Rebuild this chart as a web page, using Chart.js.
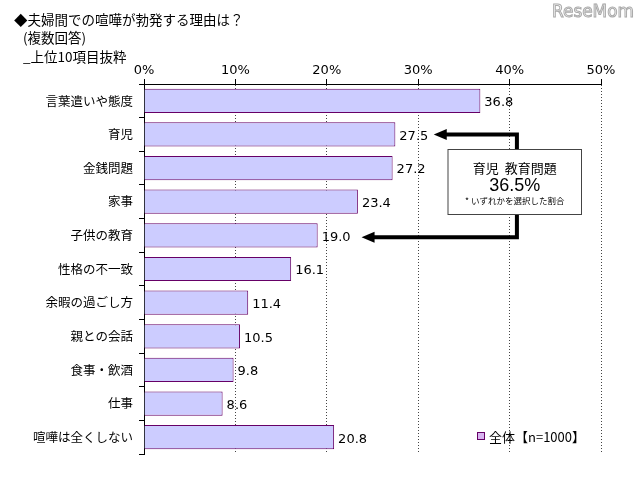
<!DOCTYPE html>
<html><head><meta charset="utf-8">
<script src="https://cdn.jsdelivr.net/npm/chart.js@4"></script>
<style>html,body{margin:0;padding:0;background:#fff}canvas{display:block}</style>
</head><body>
<canvas id="c" width="640" height="477" style="width:640px;height:477px"></canvas>
<script>
const categories = ['言葉遣いや態度','育児','金銭問題','家事','子供の教育','性格の不一致','余暇の過ごし方','親との会話','食事・飲酒','仕事','喧嘩は全くしない'];
const values = [36.8, 27.5, 27.2, 23.4, 19.0, 16.1, 11.4, 10.5, 9.8, 8.6, 20.8];
const valueLabels = ['36.8','27.5','27.2','23.4','19.0','16.1','11.4','10.5','9.8','8.6','20.8'];
const xMin = 0, xMax = 50, xStep = 10;
const titleLines = ['◆夫婦間での喧嘩が勃発する理由は？',' (複数回答)',' _上位10項目抜粋'];
const noteLines = ['育児  教育問題','36.5%','* いずれかを選択した割合'];
const legendText = '全体【n=1000】';

const FONT = '"Noto Sans CJK JP", "Noto Sans", sans-serif';
const NUMFONT = '"DejaVu Sans", "Noto Sans", sans-serif';

const overlay = {
  id:'overlay',
  afterDraw(chart){
    const ctx = chart.ctx, xs = chart.scales.x, ys = chart.scales.y;
    const meta = chart.getDatasetMeta(0);
    ctx.save();
    // data labels
    ctx.fillStyle = '#000';
    ctx.font = '13px ' + NUMFONT;
    ctx.textBaseline = 'middle';
    ctx.textAlign = 'left';
    meta.data.forEach((el,i)=>{ ctx.fillText(valueLabels[i], el.x + 4, el.y + 2); });

    // title
    ctx.font = '13.5px ' + FONT;
    ctx.textBaseline = 'middle';
    ctx.fillText(titleLines[0], 14, 20);
    ctx.fillText(titleLines[1], 20, 38);
    ctx.fillText(titleLines[2], 20, 57);

    // watermark
    ctx.font = '17px "DejaVu Sans", sans-serif';
    const w = ctx.measureText('ReseMom').width;
    ctx.save();
    ctx.translate(552, 13);
    ctx.scale(82 / w, 1);
    ctx.textBaseline = 'middle';
    ctx.lineWidth = 1;
    ctx.strokeStyle = '#aaa';
    ctx.fillStyle = '#fff';
    ctx.fillText('ReseMom', 0, 0);
    ctx.strokeText('ReseMom', 0, 0);
    ctx.restore();

    // arrows
    const vx = xs.getPixelForValue(40.8);
    const y1 = ys.getPixelForValue(1), y2 = ys.getPixelForValue(4) + 2;
    const tip1 = xs.getPixelForValue(31.7), tip2 = xs.getPixelForValue(23.8);
    ctx.strokeStyle = '#000'; ctx.fillStyle = '#000';
    ctx.lineWidth = 4; ctx.lineCap = 'butt';
    ctx.beginPath();
    ctx.moveTo(tip1 + 10, y1); ctx.lineTo(vx + 2, y1);
    ctx.moveTo(vx, y1 - 2); ctx.lineTo(vx, y2 + 2);
    ctx.moveTo(vx + 2, y2); ctx.lineTo(tip2 + 10, y2);
    ctx.stroke();
    [[tip1,y1],[tip2,y2]].forEach(([tx,ty])=>{
      ctx.beginPath(); ctx.moveTo(tx, ty); ctx.lineTo(tx + 13, ty - 5.5); ctx.lineTo(tx + 13, ty + 5.5); ctx.closePath(); ctx.fill();
    });

    // note box
    const bx1 = 447.5, bx2 = 582, by1 = 149, by2 = 215;
    ctx.fillStyle = '#fff';
    ctx.fillRect(bx1, by1, bx2 - bx1, by2 - by1);
    ctx.lineWidth = 1; ctx.strokeStyle = '#444';
    ctx.strokeRect(bx1 + 0.5, by1 + 0.5, bx2 - bx1 - 1, by2 - by1 - 1);
    ctx.fillStyle = '#000'; ctx.textAlign = 'center'; ctx.textBaseline = 'middle';
    const cx = (bx1 + bx2) / 2;
    ctx.font = '13px ' + FONT; ctx.fillText(noteLines[0], cx, 168);
    ctx.font = '18px "Liberation Sans", "Noto Sans", sans-serif'; ctx.fillText(noteLines[1], cx, 186);
    ctx.font = '8.5px ' + FONT; ctx.fillText(noteLines[2], cx, 201);

    // legend
    ctx.fillStyle = '#d8b4f0'; ctx.fillRect(477, 432, 7, 7);
    ctx.strokeStyle = '#660066'; ctx.lineWidth = 1; ctx.strokeRect(477.5, 432.5, 7, 7);
    ctx.fillStyle = '#000'; ctx.textAlign = 'left';
    ctx.font = '13px ' + FONT; ctx.fillText(legendText, 489, 437);
    ctx.restore();
  }
};

new Chart(document.getElementById('c'), {
  type: 'bar',
  data: { labels: categories, datasets: [{ data: values, backgroundColor: '#ccccff', borderColor: '#660066', borderWidth: 1, barPercentage: 0.72, categoryPercentage: 1 }] },
  options: {
    indexAxis: 'y', responsive: false, animation: false, devicePixelRatio: 1,
    layout: { padding: { left: 0, right: 39, top: 0, bottom: 23 } },
    plugins: { legend: { display: false }, tooltip: { enabled: false } },
    scales: {
      x: {
        position: 'top', min: xMin, max: xMax,
        ticks: { stepSize: xStep, callback: v => v + '%', color: '#000', font: { family: NUMFONT, size: 13 }, padding: 1, maxRotation: 0 },
        grid: { color: '#444', lineWidth: 1, tickLength: 5, tickColor: '#000', drawOnChartArea: true },
        border: { display: true, color: '#000', width: 1, dash: [1, 2] },
        afterFit(s) { s.height = 84; }
      },
      y: {
        ticks: { color: '#000', font: { family: FONT, size: 12.5 }, padding: 6 },
        grid: { drawOnChartArea: false, tickLength: 5, color: '#000', tickColor: '#000' },
        border: { display: true, color: '#000', width: 1 },
        afterFit(s) { s.width = 144; }
      }
    }
  },
  plugins: [overlay]
});
</script>
</body></html>
